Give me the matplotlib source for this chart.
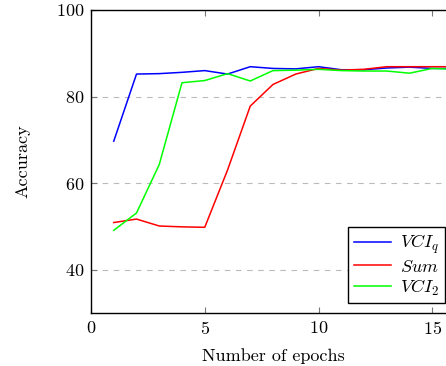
import matplotlib
matplotlib.use("Agg")
import matplotlib.pyplot as plt

plt.rcParams['font.family'] = 'serif'
plt.rcParams['font.serif'] = ['cmr10']
plt.rcParams['mathtext.fontset'] = 'cm'
plt.rcParams['axes.formatter.use_mathtext'] = True

epochs = list(range(1, 17))
vci_q = [69.7, 85.2, 85.3, 85.6, 86.0, 85.2, 86.9, 86.5, 86.4, 86.9, 86.2, 86.2, 86.6, 86.8, 86.5, 86.5]
sum_ = [50.9, 51.7, 50.1, 49.9, 49.8, 63.0, 77.8, 82.8, 85.2, 86.5, 86.1, 86.3, 86.9, 86.9, 86.9, 86.9]
vci_2 = [49.1, 53.1, 64.3, 83.2, 83.7, 85.3, 83.6, 86.0, 86.1, 86.3, 86.0, 85.9, 85.9, 85.4, 86.5, 86.3]
labels = [r'$VCI_q$', r'$Sum$', r'$VCI_2$']
colors = ['#0000ff', '#ff0000', '#00ff00']

fig = plt.figure(figsize=(4.46, 3.66), dpi=100)
ax = fig.add_axes([91/446, 53/366, 364/446, 303/366])
for ys, lab, c in zip([vci_q, sum_, vci_2], labels, colors):
    ax.plot(epochs, ys, color=c, lw=1.1, label=lab)

ax.set_xlim(0, 16)
ax.set_ylim(30, 100)
ax.set_xticks([0, 5, 10, 15])
ax.set_yticks([40, 60, 80, 100])
ax.tick_params(direction='in', top=True, right=True, labelsize=13, length=4,
               color='#777777', pad=5)
ax.yaxis.grid(True, linestyle=(0, (5, 5)), color='#bbbbbb', lw=0.8)
ax.set_axisbelow(True)
for s in ax.spines.values():
    s.set_linewidth(1.0)
ax.set_xlabel('Number of epochs', fontsize=13, labelpad=8)
ax.set_ylabel('Accuracy', fontsize=13, labelpad=18)

leg = ax.legend(loc='lower right', bbox_to_anchor=(445/446, 63/366),
                bbox_transform=fig.transFigure, fontsize=13, fancybox=False,
                framealpha=1, edgecolor='black', borderpad=0.3, labelspacing=0.15,
                handlelength=2.1, handletextpad=0.5, borderaxespad=0)
leg.get_frame().set_linewidth(1.0)

fig.savefig('out.png', dpi=100)
